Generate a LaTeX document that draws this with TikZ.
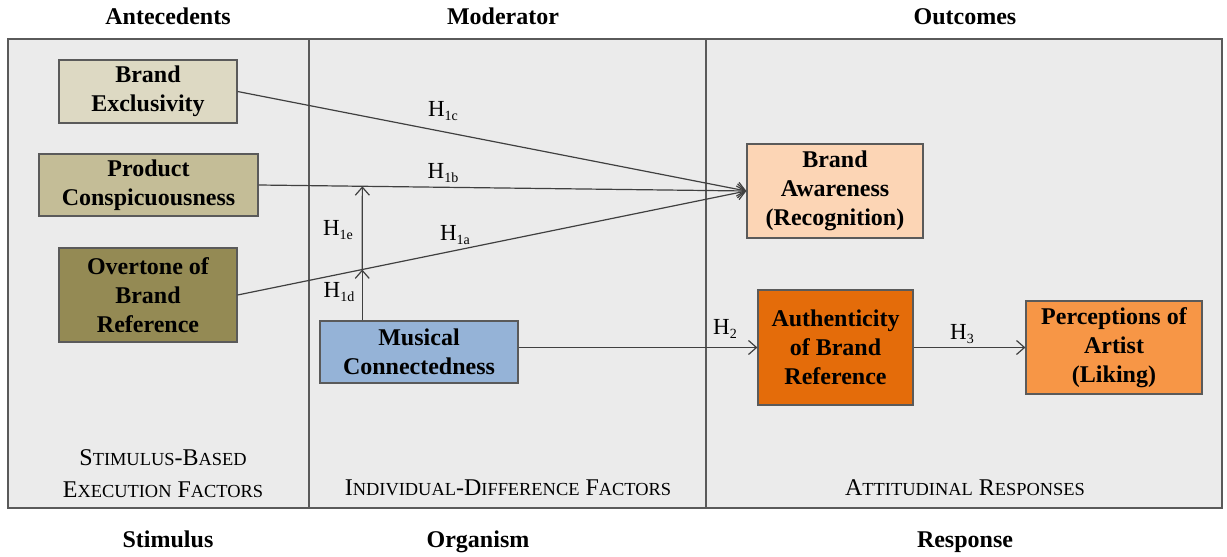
\documentclass[tikz,border=0pt]{standalone}
\usepackage{fontspec}
\setmainfont{Liberation Serif}
\usetikzlibrary{arrows.meta,calc}
\definecolor{panel}{HTML}{EBEBEB}
\definecolor{frame}{HTML}{5A5A5A}
\definecolor{cBE}{HTML}{DDD9C3}
\definecolor{cPC}{HTML}{C4BD97}
\definecolor{cOB}{HTML}{948A54}
\definecolor{cMC}{HTML}{95B3D7}
\definecolor{cBA}{HTML}{FCD5B5}
\definecolor{cAU}{HTML}{E46C0A}
\definecolor{cPA}{HTML}{F79646}
\newcommand\fsc[2]{#1{\fontsize{9.2}{10}\selectfont #2}}
\newcommand\hyp[1]{H\raisebox{-1.6pt}{\fontsize{7}{8}\selectfont #1}}
\begin{document}
\begin{tikzpicture}[x=0.5pt,y=-0.5pt,
  box/.style={draw=frame,line width=0.6pt,align=center,inner sep=0pt,
    font=\fontsize{12}{14.5}\selectfont\bfseries},
  arr/.style={draw=black!75,line width=0.6pt,-{Straight Barb[length=4pt,width=7pt]}},
  head/.style={font=\fontsize{12}{14}\selectfont\bfseries,anchor=base},
  captext/.style={font=\fontsize{12}{14}\selectfont,align=center},
  hl/.style={font=\fontsize{11.5}{12}\selectfont,inner sep=0pt}]
\useasboundingbox (0,0) rectangle (1227,557);
% panels
\draw[frame,fill=panel,line width=0.6pt] (8,39) rectangle (1222,508);
\draw[frame,line width=0.6pt] (309,39) -- (309,508);
\draw[frame,line width=0.6pt] (706,39) -- (706,508);
% headers
\node[head] (hA) at (168,25) {Antecedents};
\node[head] (hM) at (503,25) {Moderator};
\node[head] (hO) at (965,25) {Outcomes};
\node[head] (fS) at (168,547) {Stimulus};
\node[head] (fO) at (478,547) {Organism};
\node[head] (fR) at (965,547) {Response};
% captions
\node[captext] (c1) at (163,474) {\fsc{S}{TIMULUS}-\fsc{B}{ASED}\\[2pt]\fsc{E}{XECUTION} \fsc{F}{ACTORS}};
\node[captext] (c2) at (508,488) {\fsc{I}{NDIVIDUAL}-\fsc{D}{IFFERENCE} \fsc{F}{ACTORS}};
\node[captext] (c3) at (965,488) {\fsc{A}{TTITUDINAL} \fsc{R}{ESPONSES}};
% boxes
\node[box,fill=cBE,minimum width=89pt,minimum height=31.5pt] (be) at (148,91.5) {Brand\\Exclusivity};
\node[box,fill=cPC,minimum width=109.5pt,minimum height=31pt] (pc) at (148.5,185) {Product\\Conspicuousness};
\node[box,fill=cOB,minimum width=89pt,minimum height=47pt] (ob) at (148,295) {Overtone of\\Brand\\Reference};
\node[box,fill=cMC,minimum width=99pt,minimum height=31pt] (mc) at (419,352) {Musical\\Connectedness};
\node[box,fill=cBA,minimum width=88pt,minimum height=47pt] (ba) at (835,191) {Brand\\Awareness\\(Recognition)};
\node[box,fill=cAU,minimum width=77.5pt,minimum height=57.5pt] (au) at (835.5,347.5) {Authenticity\\of Brand\\Reference};
\node[box,fill=cPA,minimum width=88pt,minimum height=46.5pt] (pa) at (1114,347.5) {Perceptions of\\Artist\\(Liking)};
% connectors
\draw[arr] (be.east) -- (ba.west);
\draw[arr] (pc.east) -- (ba.west);
\draw[arr] (ob.east) -- (ba.west);
\coordinate (top) at ($(pc.east)!0.2127!(ba.west)$);
\coordinate (mid) at ($(ob.east)!0.245!(ba.west)$);
\coordinate (vb) at (mid |- mc.north);
\draw[arr] (vb) -- (mid);
\draw[arr] (mid) -- (top);
\draw[arr] (mc.east |- au.west) -- (au.west);
\draw[arr] (au.east) -- (pa.west);
% labels
\node[hl] (l1c) at (443,111) {\hyp{1c}};
\node[hl] (l1b) at (443,173) {\hyp{1b}};
\node[hl] (l1a) at (455,235) {\hyp{1a}};
\node[hl] (l1e) at (338,230) {\hyp{1e}};
\node[hl] (l1d) at (339,292) {\hyp{1d}};
\node[hl] (l2) at (725,329) {\hyp{2}};
\node[hl] (l3) at (962,334) {\hyp{3}};
\end{tikzpicture}
\end{document}
